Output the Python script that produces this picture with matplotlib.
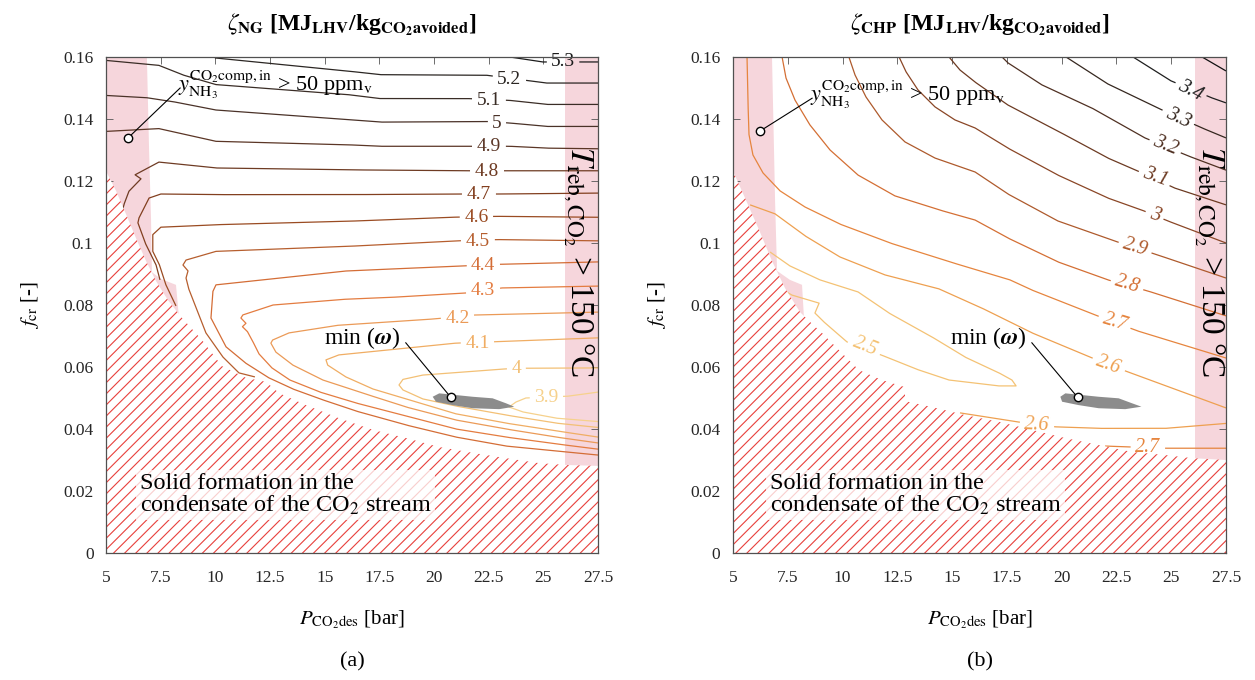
import numpy as np
import matplotlib
matplotlib.use("Agg")
import matplotlib.pyplot as plt

plt.rcParams["font.family"] = ["Liberation Serif", "DejaVu Serif"]
plt.rcParams["mathtext.fontset"] = "stix"
plt.rcParams["hatch.linewidth"] = 0.8
plt.rcParams["hatch.color"] = "#e8403c"

x_ticks = [5, 7.5, 10, 12.5, 15, 17.5, 20, 22.5, 25, 27.5]
x_ticklabels = ["5", "7.5", "10", "12.5", "15", "17.5", "20", "22.5", "25", "27.5"]
y_ticks = [0, 0.02, 0.04, 0.06, 0.08, 0.10, 0.12, 0.14, 0.16]
y_ticklabels = ["0", "0.02", "0.04", "0.06", "0.08", "0.1", "0.12", "0.14", "0.16"]

# ---------------- (a) zeta_NG iso-lines (P [bar], f_cr [-])
ng_53_p = [23.47, 24.98, 27.5]
ng_53_f = [0.1600, 0.1584, 0.1584]
ng_52_p = [9.98, 16.02, 17.53, 22.42, 24.39, 25.16, 27.5]
ng_52_f = [0.1597, 0.1555, 0.1543, 0.1541, 0.1523, 0.1516, 0.1516]
ng_51_p = [5.0, 7.42, 8.52, 10.03, 16.02, 17.53, 21.51, 23.47, 25.16, 27.5]
ng_51_f = [0.1589, 0.1573, 0.1542, 0.1511, 0.1479, 0.1466, 0.1466, 0.1460, 0.1447, 0.1447]
ng_50_p = [5.0, 6.83, 8.06, 10.03, 16.02, 17.53, 22.42, 23.47, 25.16, 27.5]
ng_50_f = [0.1476, 0.1469, 0.1456, 0.1429, 0.1398, 0.1390, 0.1392, 0.1387, 0.1376, 0.1376]
ng_49_p = [5.0, 7.42, 10.03, 16.02, 17.53, 21.51, 23.47, 25.16, 27.5]
ng_49_f = [0.1360, 0.1369, 0.1328, 0.1317, 0.1312, 0.1312, 0.1312, 0.1306, 0.1304]
ng_48_p = [5.73, 5.82, 6.05, 6.60, 6.33, 7.42, 10.03, 16.02, 21.51, 27.5]
ng_48_f = [0.1100, 0.1124, 0.1167, 0.1207, 0.1220, 0.1261, 0.1242, 0.1236, 0.1233, 0.1233]
ng_47_p = [7.47, 7.29, 6.83, 6.46, 6.51, 6.97, 7.51, 10.03, 16.02, 21.05, 22.97, 27.5]
ng_47_f = [0.0881, 0.0929, 0.0994, 0.1065, 0.1081, 0.1145, 0.1158, 0.1156, 0.1156, 0.1158, 0.1158, 0.1161]
ng_46_p = [8.20, 7.74, 7.44, 7.14, 7.14, 7.51, 10.03, 16.02, 20.73, 22.88, 27.5]
ng_46_f = [0.0797, 0.0865, 0.0930, 0.0973, 0.1027, 0.1051, 0.1059, 0.1070, 0.1083, 0.1086, 0.1083]
ng_45_p = [11.81, 11.08, 10.35, 9.57, 9.07, 8.80, 8.66, 8.75, 8.52, 8.66, 10.03, 16.02, 21.05, 22.92, 27.5]
ng_45_f = [0.0568, 0.0581, 0.0632, 0.0710, 0.0800, 0.0848, 0.0887, 0.0910, 0.0929, 0.0945,
           0.0973, 0.0989, 0.1007, 0.1011, 0.1007]
ng_44_p = [27.5, 23.24, 21.32, 16.02, 10.03, 9.89, 9.80, 10.49, 11.40, 12.45, 13.55, 14.79,
           16.43, 18.72, 21.00, 23.29, 25.58, 27.5]
ng_44_f = [0.0939, 0.0932, 0.0926, 0.0910, 0.0865, 0.0844, 0.0758, 0.0665, 0.0612, 0.0565,
           0.0529, 0.0497, 0.0458, 0.0413, 0.0374, 0.0345, 0.0329, 0.0316]
ng_43_p = [27.5, 23.11, 21.51, 18.44, 16.02, 12.64, 11.26, 11.17, 11.40, 11.24, 11.47, 11.68,
           12.00, 12.59, 13.41, 14.79, 16.43, 18.72, 21.00, 23.29, 25.58, 27.5]
ng_43_f = [0.0861, 0.0855, 0.0839, 0.0826, 0.0819, 0.0800, 0.0768, 0.0758, 0.0741, 0.0730,
           0.0714, 0.0687, 0.0642, 0.0597, 0.0558, 0.0519, 0.0484, 0.0442, 0.0400, 0.0374,
           0.0352, 0.0335]
ng_42_p = [27.5, 21.92, 20.00, 15.65, 13.37, 12.62, 12.54, 12.77, 13.55, 14.92, 16.43, 18.72,
           21.00, 23.29, 25.58, 27.5]
ng_42_f = [0.0777, 0.0768, 0.0755, 0.0735, 0.0710, 0.0687, 0.0677, 0.0648, 0.0606, 0.0558,
           0.0523, 0.0471, 0.0429, 0.0400, 0.0374, 0.0355]
ng_41_p = [27.5, 22.97, 21.00, 15.65, 15.06, 15.14, 15.97, 17.21, 18.72, 21.00, 23.29, 25.58, 27.5]
ng_41_f = [0.0694, 0.0682, 0.0677, 0.0639, 0.0623, 0.0606, 0.0568, 0.0529, 0.0497, 0.0449,
           0.0419, 0.0394, 0.0374]
ng_40_p = [27.5, 24.20, 23.29, 19.49, 18.58, 18.40, 18.58, 19.49, 21.00, 23.29, 25.58, 27.5]
ng_40_f = [0.0597, 0.0596, 0.0594, 0.0574, 0.0560, 0.0542, 0.0526, 0.0497, 0.0474, 0.0445,
           0.0419, 0.0405]
ng_39_p = [27.5, 26.17, 24.20, 23.75, 23.43, 24.07, 25.58, 27.5]
ng_39_f = [0.0519, 0.0506, 0.0500, 0.0487, 0.0471, 0.0455, 0.0435, 0.0424]

ng_lab_text = ["5.3", "5.2", "5.1", "5", "4.9", "4.8", "4.7", "4.6", "4.5", "4.4", "4.3",
               "4.2", "4.1", "4", "3.9"]
ng_lab_p = [25.90, 23.43, 22.51, 22.88, 22.51, 22.42, 22.06, 21.96, 22.01, 22.24, 22.24,
            21.08, 21.99, 23.75, 25.12]
ng_lab_f = [0.1584, 0.1529, 0.1459, 0.1387, 0.1312, 0.1231, 0.1158, 0.1083, 0.1005, 0.0929,
            0.0848, 0.0757, 0.0676, 0.0594, 0.0503]

# regions of panel (a)
ng_solid_p = [5.0, 5.46, 5.91, 6.37, 6.83, 7.29, 7.83, 8.48, 9.39, 10.30, 11.40, 12.32, 12.91,
              14.14, 15.65, 17.21, 18.72, 20.23, 21.78, 23.29, 24.80, 26.03, 27.5]
ng_solid_f = [0.1232, 0.1168, 0.1094, 0.1016, 0.0942, 0.0877, 0.0816, 0.0758, 0.0687, 0.0603,
              0.0565, 0.0552, 0.0516, 0.0477, 0.0435, 0.0397, 0.0371, 0.0342, 0.0323, 0.0306,
              0.0290, 0.0284, 0.0281]
ng_nh3_p = [5.0, 6.87, 6.97, 7.06, 7.10, 7.51, 8.20, 8.34, 8.75, 9.07, 5.0]
ng_nh3_f = [0.16, 0.16, 0.1300, 0.1074, 0.0906, 0.0884, 0.0865, 0.0758, 0.0700, 0.0671, 0.0671]
ng_treb_p = [26.0, 27.5, 27.5, 26.0]
ng_treb_f = [0.16, 0.16, 0.0, 0.0]
ng_min_p = [19.94, 20.24, 21.77, 22.68, 23.29, 23.67, 22.98, 21.77, 20.85, 20.09]
ng_min_f = [0.0504, 0.0515, 0.0504, 0.0499, 0.0483, 0.0472, 0.0464, 0.0467, 0.0477, 0.0488]
ng_min_pt = (20.77, 0.0502)
ng_nh3_pt = (6.01, 0.1339)

# ---------------- (b) zeta_CHP iso-lines
chp_35_p = [26.41, 27.5]
chp_35_f = [0.1600, 0.1555]
chp_34_p = [23.26, 24.99, 26.86, 27.5]
chp_34_f = [0.1600, 0.1523, 0.1468, 0.1452]
chp_33_p = [20.20, 22.11, 24.40, 26.41, 27.5]
chp_33_f = [0.1600, 0.1513, 0.1435, 0.1371, 0.1339]
chp_32_p = [17.28, 17.55, 19.10, 21.39, 23.80, 25.77, 27.5]
chp_32_f = [0.1600, 0.1581, 0.1510, 0.1435, 0.1339, 0.1281, 0.1235]
chp_31_p = [14.86, 15.36, 16.05, 17.55, 19.83, 22.11, 23.48, 25.17, 27.5]
chp_31_f = [0.1600, 0.1558, 0.1519, 0.1445, 0.1361, 0.1274, 0.1232, 0.1177, 0.1123]
chp_30_p = [12.58, 12.90, 13.44, 14.22, 15.13, 16.05, 17.55, 19.83, 22.11, 23.67, 24.85, 27.5]
chp_30_f = [0.1600, 0.1552, 0.1494, 0.1439, 0.1397, 0.1371, 0.1306, 0.1219, 0.1145, 0.1106,
            0.1071, 0.1000]
chp_29_p = [10.29, 10.57, 11.07, 11.80, 12.85, 14.22, 16.05, 17.55, 19.83, 22.43, 24.40, 27.5]
chp_29_f = [0.1600, 0.1542, 0.1471, 0.1397, 0.1326, 0.1274, 0.1229, 0.1158, 0.1071, 0.1006,
            0.0961, 0.0887]
chp_28_p = [7.24, 7.42, 7.83, 8.51, 9.43, 10.71, 12.39, 14.45, 16.05, 17.55, 19.83, 22.11,
            23.94, 27.5]
chp_28_f = [0.1600, 0.1532, 0.1461, 0.1381, 0.1300, 0.1219, 0.1152, 0.1106, 0.1074, 0.1016,
            0.0939, 0.0881, 0.0845, 0.0765]
chp_27_p = [5.64, 5.68, 5.73, 5.91, 6.37, 7.15, 8.29, 9.88, 12.17, 14.90, 17.64, 18.65, 21.52,
            23.48, 27.5]
chp_27_f = [0.1600, 0.1461, 0.1350, 0.1284, 0.1226, 0.1168, 0.1116, 0.1061, 0.1000, 0.0939,
            0.0881, 0.0848, 0.0768, 0.0716, 0.0629]
chp_26_p = [5.78, 6.92, 8.29, 9.88, 11.94, 14.40, 16.36, 18.65, 21.29, 22.80, 27.5]
chp_26_f = [0.1123, 0.1094, 0.1023, 0.0955, 0.0897, 0.0852, 0.0790, 0.0710, 0.0632, 0.0590, 0.0468]
chp_25_p = [6.69, 7.60, 8.97, 10.71, 12.12, 14.08, 15.59, 17.14, 17.73, 17.92, 17.14, 14.86,
            13.49, 12.12, 10.20, 9.20, 8.74, 8.93, 7.69, 7.37]
chp_25_f = [0.0971, 0.0926, 0.0881, 0.0842, 0.0774, 0.0697, 0.0632, 0.0581, 0.0558, 0.0539,
            0.0539, 0.0558, 0.0590, 0.0629, 0.0681, 0.0742, 0.0774, 0.0806, 0.0832, 0.0845]
chp_26b_p = [15.36, 17.87, 19.70, 21.70, 24.72, 27.5]
chp_26b_f = [0.0452, 0.0424, 0.0407, 0.0402, 0.0402, 0.0418]
chp_27b_p = [21.98, 24.72, 27.5]
chp_27b_f = [0.0345, 0.0338, 0.0338]

chp_lab_text = ["", "3.4", "3.3", "3.2", "3.1", "3", "2.9", "2.8", "2.7", "2.6", "2.5", "2.6", "2.7"]
chp_lab_p = [0, 25.86, 25.31, 24.72, 24.26, 24.26, 23.35, 22.98, 22.43, 22.15, 11.02, 18.88, 23.94]
chp_lab_f = [0, 0.1490, 0.1403, 0.1313, 0.1213, 0.1090, 0.0987, 0.0865, 0.0745, 0.0606, 0.0665,
             0.0413, 0.0339]
chp_lab_rot = [0, -27, -25, -22, -20, -18, -17, -17, -17, -20, -22, -3, 0]

chp_solid_p = [5.0, 5.55, 6.19, 6.78, 7.37, 8.06, 8.61, 9.06, 9.97, 10.75, 11.80, 12.85, 12.85,
               14.08, 15.59, 17.14, 18.65, 20.15, 21.70, 23.21, 24.72, 25.95, 27.5]
chp_solid_f = [0.1232, 0.1145, 0.1042, 0.0942, 0.0855, 0.0777, 0.0739, 0.0710, 0.0645, 0.0590,
               0.0558, 0.0535, 0.0490, 0.0471, 0.0445, 0.0423, 0.0397, 0.0371, 0.0348, 0.0326,
               0.0316, 0.0306, 0.0300]
chp_nh3_p = [5.0, 6.78, 6.87, 6.92, 7.01, 7.60, 8.15, 8.24, 8.61, 8.06, 5.0]
chp_nh3_f = [0.16, 0.16, 0.1306, 0.1135, 0.0910, 0.0881, 0.0865, 0.0758, 0.0735, 0.0687, 0.0687]
chp_treb_p = [26.1, 27.5, 27.5, 26.1]
chp_treb_f = [0.16, 0.16, 0.0, 0.0]
chp_min_p = [19.94, 20.17, 21.69, 22.60, 23.21, 23.64, 22.90, 21.69, 20.78, 20.02]
chp_min_f = [0.0504, 0.0515, 0.0504, 0.0499, 0.0483, 0.0472, 0.0464, 0.0467, 0.0477, 0.0488]
chp_min_pt = (20.73, 0.0502)
chp_nh3_pt = (6.23, 0.1361)

# line colours (copper-like, dark = high value)
ng_colors = ["#1c1c1c", "#2b2623", "#3a2d26", "#4a3228", "#5b3626", "#6e3b23", "#823f1f",
             "#9a4b22", "#b65e2e", "#d46d36", "#e47c40", "#eb9a57", "#f0ad63", "#f3c075", "#f6d18c"]
chp_colors = ["#111111", "#1e1e1e", "#35271f", "#4f3022", "#6c3a22", "#8a4626", "#ae5a2c",
              "#d46f34", "#e6853e", "#eea050", "#f4c274", "#eea050", "#e6853e"]

PINK = "#f6d6dc"
RED = "#e8403c"


def gap_plot(ax, p, f, color, text, lp, lf, rot, fs):
    # draw polyline, leaving a gap where its label sits
    xy = ax.transData.transform(np.column_stack([p, f]))
    parts = []
    for a, b in zip(xy[:-1], xy[1:]):
        n = int(np.hypot(*(b - a))) + 2
        parts.append(a + np.linspace(0, 1, n)[:-1, None] * (b - a))
    parts.append(xy[-1:])
    d = np.vstack(parts)
    if text:
        c = ax.transData.transform((lp, lf))
        w = fs * 100 / 72 * (0.5 * sum(ch.isdigit() for ch in text) + 0.25 * text.count("."))
        t = np.deg2rad(rot)
        u = (d[:, 0] - c[0]) * np.cos(t) + (d[:, 1] - c[1]) * np.sin(t)
        v = -(d[:, 0] - c[0]) * np.sin(t) + (d[:, 1] - c[1]) * np.cos(t)
        d[(np.abs(u) < w / 2 + 4) & (np.abs(v) < 10)] = np.nan
    out = ax.transData.inverted().transform(d)
    ax.plot(out[:, 0], out[:, 1], color=color, lw=0.9, zorder=3, solid_capstyle="butt")


def setup(ax):
    ax.set_xlim(5, 27.5)
    ax.set_ylim(0, 0.16)
    ax.set_xticks(x_ticks)
    ax.set_xticklabels(x_ticklabels)
    ax.set_yticks(y_ticks)
    ax.set_yticklabels(y_ticklabels)
    ax.tick_params(direction="in", top=True, right=True, length=5, width=0.6,
                   color="#555555", labelsize=12.5, labelcolor="#262626")
    ax.tick_params(axis="x", pad=12)
    ax.tick_params(axis="y", pad=9)
    for s in ax.spines.values():
        s.set_color("#505050")
        s.set_linewidth(0.9)
        s.set_zorder(8)


def regions(ax, nh3_p, nh3_f, treb_p, treb_f, solid_p, solid_f):
    ax.fill(nh3_p, nh3_f, color=PINK, lw=0, zorder=1)
    ax.fill(treb_p, treb_f, color=PINK, lw=0, zorder=1)
    ax.fill(solid_p + [27.5, 5.0], solid_f + [0.0, 0.0], facecolor="white",
            edgecolor=RED, hatch="///", lw=0, zorder=3.5)


def annotate(ax, min_p, min_f, min_pt, nh3_pt, txt_min, txt_y, txt_t, y_txt):
    ax.fill(min_p, min_f, color="#8c8c8c", lw=0, zorder=5)
    ax.plot([min_pt[0], txt_min[0] + 0.22], [min_pt[1], txt_min[1] - 0.0016],
            color="black", lw=0.8, zorder=6)
    ax.plot(*min_pt, "o", ms=6, mfc="white", mec="black", mew=1, zorder=7)
    ax.text(txt_min[0], txt_min[1], r"min ($\mathbfit{\omega}$)", ha="right", va="center",
            fontsize=17, zorder=7)
    ax.plot([nh3_pt[0], txt_y[0] + 0.1], [nh3_pt[1], txt_y[1] - 0.001],
            color="black", lw=0.8, zorder=6)
    ax.plot(*nh3_pt, "o", ms=6, mfc="white", mec="black", mew=1, zorder=7)
    ax.text(txt_y[0], txt_y[1], r"$y_{\mathrm{NH}_3}^{\mathrm{CO}_2\mathrm{comp,in}}$ > 50 ppm$_\mathrm{v}$",
            ha="left", va="center", fontsize=16, zorder=7)
    ax.text(txt_t[0], txt_t[1], r"$T_{\mathrm{reb,CO}_2}$ > 150 °C", rotation=-90,
            ha="center", va="center", fontsize=24, zorder=7)
    ax.text(y_txt[0], y_txt[1], "Solid formation in the\ncondensate of the CO$_2$ stream",
            ha="left", va="center", fontsize=17.5, linespacing=0.95, zorder=7,
            bbox=dict(boxstyle="square,pad=0.15", fc="white", ec="none", alpha=0.75))


fig = plt.figure(figsize=(12.55, 6.8), dpi=100)
ax_a = fig.add_axes([106 / 1255, 127 / 680, 492 / 1255, 496 / 680])
ax_b = fig.add_axes([733 / 1255, 127 / 680, 493 / 1255, 496 / 680])
setup(ax_a)
setup(ax_b)

# panel (a)
regions(ax_a, ng_nh3_p, ng_nh3_f, ng_treb_p, ng_treb_f, ng_solid_p, ng_solid_f)
ng_lines = [(ng_53_p, ng_53_f), (ng_52_p, ng_52_f), (ng_51_p, ng_51_f), (ng_50_p, ng_50_f),
            (ng_49_p, ng_49_f), (ng_48_p, ng_48_f), (ng_47_p, ng_47_f), (ng_46_p, ng_46_f),
            (ng_45_p, ng_45_f), (ng_44_p, ng_44_f), (ng_43_p, ng_43_f), (ng_42_p, ng_42_f),
            (ng_41_p, ng_41_f), (ng_40_p, ng_40_f), (ng_39_p, ng_39_f)]
for i, (p, f) in enumerate(ng_lines):
    gap_plot(ax_a, p, f, ng_colors[i], ng_lab_text[i], ng_lab_p[i], ng_lab_f[i], 0, 14)
    ax_a.text(ng_lab_p[i], ng_lab_f[i], ng_lab_text[i], color=ng_colors[i], fontsize=14,
              ha="center", va="center", zorder=4, clip_on=False)
annotate(ax_a, ng_min_p, ng_min_f, ng_min_pt, ng_nh3_pt, (18.49, 0.0694), (8.29, 0.1510),
         (26.62, 0.0942), (6.55, 0.0187))

# panel (b)
regions(ax_b, chp_nh3_p, chp_nh3_f, chp_treb_p, chp_treb_f, chp_solid_p, chp_solid_f)
chp_lines = [(chp_35_p, chp_35_f), (chp_34_p, chp_34_f), (chp_33_p, chp_33_f),
             (chp_32_p, chp_32_f), (chp_31_p, chp_31_f), (chp_30_p, chp_30_f),
             (chp_29_p, chp_29_f), (chp_28_p, chp_28_f), (chp_27_p, chp_27_f),
             (chp_26_p, chp_26_f), (chp_25_p, chp_25_f), (chp_26b_p, chp_26b_f),
             (chp_27b_p, chp_27b_f)]
for i, (p, f) in enumerate(chp_lines):
    gap_plot(ax_b, p, f, chp_colors[i], chp_lab_text[i], chp_lab_p[i], chp_lab_f[i],
             chp_lab_rot[i], 14.5)
    if chp_lab_text[i]:
        ax_b.text(chp_lab_p[i], chp_lab_f[i], chp_lab_text[i], color=chp_colors[i],
                  fontsize=14.5, fontstyle="italic", rotation=chp_lab_rot[i],
                  rotation_mode="anchor", ha="center", va="center", zorder=4)
annotate(ax_b, chp_min_p, chp_min_f, chp_min_pt, chp_nh3_pt, (18.42, 0.0694), (8.51, 0.1477),
         (26.76, 0.0942), (6.69, 0.0187))

titles = [r"$\zeta_{\mathbf{NG}}$ [MJ$_{\mathbf{LHV}}$/kg$_{\mathbf{CO}_{\mathbf{2}}\mathbf{avoided}}$]",
          r"$\zeta_{\mathbf{CHP}}$ [MJ$_{\mathbf{LHV}}$/kg$_{\mathbf{CO}_{\mathbf{2}}\mathbf{avoided}}$]"]
for ax, ttl, tag in [(ax_a, titles[0], "(a)"), (ax_b, titles[1], "(b)")]:
    ax.text(0.5, 1 + 32 / 496, ttl, transform=ax.transAxes, ha="center", va="center",
            fontsize=17, fontweight="bold")
    ax.text(0.5, -0.135, r"$P_{\mathrm{CO}_2\mathrm{des}}$ [bar]", transform=ax.transAxes,
            ha="center", va="center", fontsize=15)
    ax.text(-0.155, 0.5, r"$f_{\mathrm{cr}}$ [-]", transform=ax.transAxes, rotation=90,
            ha="center", va="center", fontsize=15)
    ax.text(0.5, -0.22, tag, transform=ax.transAxes, ha="center", va="center", fontsize=16)

fig.savefig("out.png", dpi=100)
